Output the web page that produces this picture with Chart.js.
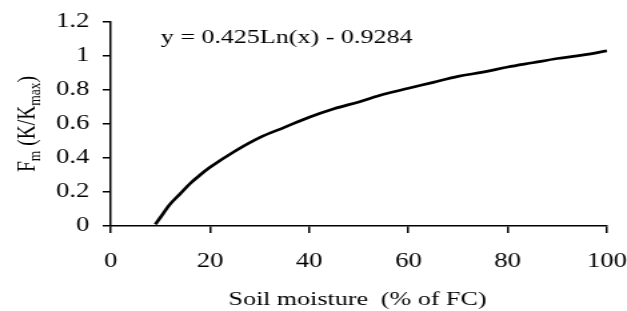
<!DOCTYPE html>
<html>
<head>
<meta charset="utf-8">
<script src="https://cdn.jsdelivr.net/npm/chart.js@4"></script>
<style>
  html, body { margin: 0; padding: 0; background: #fff; overflow: hidden; }
  /* the original figure is stretched sideways, so the chart is drawn narrower and widened */
  #wrap { width: 470px; height: 311px; position: relative; transform: scaleX(1.334); transform-origin: 0 0; }
</style>
</head>
<body>
<div id="wrap"><canvas id="fmChart"></canvas></div>
<script>
// values
const moisture = [9, 10, 12, 14, 16, 18, 20, 25, 30, 35, 40, 45, 50, 55, 60, 65, 70, 75, 80, 85, 90, 95, 100];
const fmValues = [0.01, 0.05, 0.13, 0.19, 0.25, 0.30, 0.345, 0.44, 0.52, 0.58, 0.64, 0.69, 0.73, 0.775, 0.81, 0.845, 0.88, 0.905, 0.935, 0.96, 0.985, 1.005, 1.03];
const xTicks = [0, 20, 40, 60, 80, 100];
const yTicks = [0, 0.2, 0.4, 0.6, 0.8, 1, 1.2];
const equation = 'y = 0.425Ln(x) - 0.9284';

const serif = '"Liberation Serif", "Times New Roman", serif';

// draws the axis titles (with subscripts) and the trendline equation
const textPlugin = {
    id: 'texts',
    afterDraw(chart) {
        const c = chart.ctx;
        c.save();
        c.fillStyle = '#000';
        c.textBaseline = 'alphabetic';

        // equation
        c.font = '19.5px ' + serif;
        c.textAlign = 'left';
        c.fillText(equation, 120.5, 43);

        // x title
        c.textAlign = 'center';
        c.fillText('Soil moisture  (% of FC)', 268, 305);

        // y title, rotated
        c.translate(26, 124);
        c.rotate(-Math.PI / 2);
        const parts = [['F', 0], ['m', 1], [' (K/K', 0], ['max', 1], [')', 0]];
        let w = 0;
        parts.forEach(p => {
            c.font = (p[1] ? '13.5px ' : '19.5px ') + serif;
            w += c.measureText(p[0]).width;
        });
        let x = -w / 2;
        c.textAlign = 'left';
        parts.forEach(p => {
            c.font = (p[1] ? '13.5px ' : '19.5px ') + serif;
            c.fillText(p[0], x, p[1] ? 4 : 0);
            x += c.measureText(p[0]).width;
        });
        c.restore();
    }
};

const ctx = document.getElementById('fmChart').getContext('2d');
new Chart(ctx, {
    type: 'line',
    data: {
        datasets: [{
            data: moisture.map((m, i) => ({ x: m, y: fmValues[i] })),
            borderColor: '#000',
            borderWidth: 2.7,
            pointRadius: 0,
            cubicInterpolationMode: 'monotone',
            fill: false
        }]
    },
    options: {
        responsive: true,
        maintainAspectRatio: false,
        animation: false,
        layout: { padding: { top: 20, right: 0, left: 0, bottom: 0 } },
        plugins: { legend: { display: false }, tooltip: { enabled: false } },
        scales: {
            x: {
                type: 'linear',
                min: 0, max: 100,
                afterBuildTicks: s => { s.ticks = xTicks.map(v => ({ value: v })); },
                afterFit: s => { s.height = 85; s.paddingRight = 15; },
                border: { color: '#000', width: 1.5 },
                grid: { drawOnChartArea: false, color: '#000', tickLength: 7, lineWidth: 1.5 },
                ticks: { color: '#000', padding: 17, maxRotation: 0, font: { family: serif, size: 20 } }
            },
            y: {
                min: 0, max: 1.2,
                afterBuildTicks: s => { s.ticks = yTicks.map(v => ({ value: v })); },
                afterFit: s => { s.width = 83; },
                border: { color: '#000', width: 1.5 },
                grid: { drawOnChartArea: false, color: '#000', tickLength: 6, lineWidth: 1.5 },
                ticks: { color: '#000', padding: 10, font: { family: serif, size: 20 }, callback: v => String(v) }
            }
        }
    },
    plugins: [textPlugin]
});
</script>
</body>
</html>
